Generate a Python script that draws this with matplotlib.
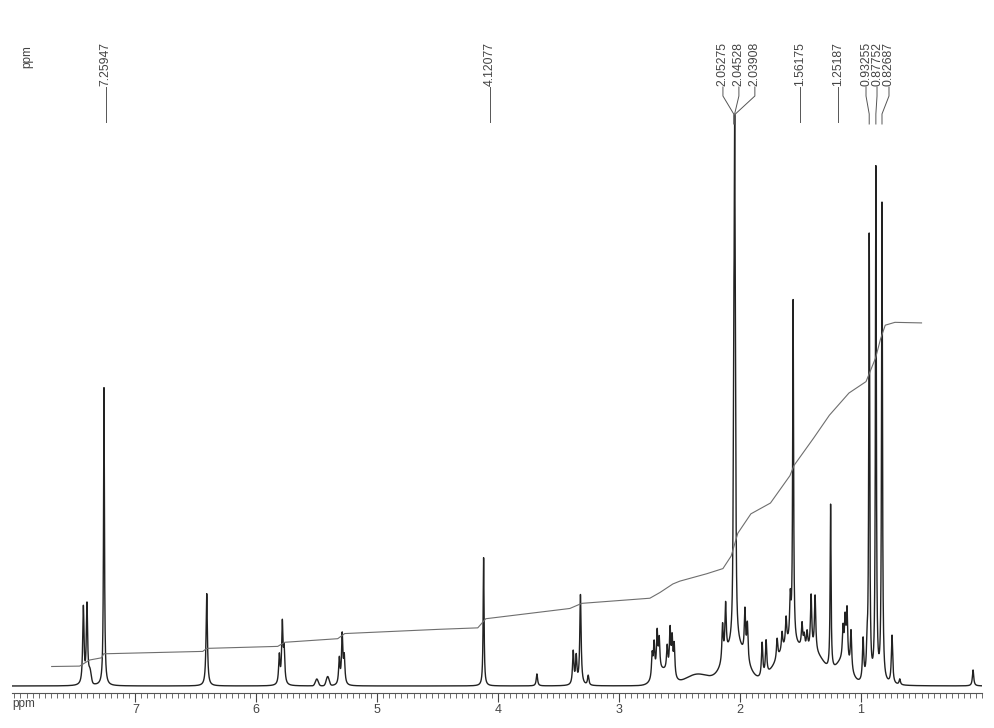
import numpy as np
import matplotlib.pyplot as plt
from matplotlib.ticker import MultipleLocator
from matplotlib.transforms import blended_transform_factory

plt.rcParams['font.family'] = ['Liberation Sans', 'DejaVu Sans']

# sharp lines: shift (ppm) and peak height (2.05 ppm line ~ 100)
line_ppm = [7.430, 7.400, 7.25947, 6.410,
            5.810, 5.785, 5.770, 5.314, 5.290, 5.273,
            4.12077, 3.680, 3.380, 3.355, 3.320, 3.256,
            2.727, 2.711, 2.686, 2.669, 2.603, 2.579, 2.562, 2.545,
            2.145, 2.120, 2.05275, 2.04528, 2.03908, 1.960, 1.940,
            1.818, 1.785, 1.694, 1.653, 1.620, 1.585, 1.56175,
            1.488, 1.470, 1.446, 1.413, 1.380, 1.25187,
            1.149, 1.132, 1.116, 1.083, 0.983, 0.950,
            0.93255, 0.87752, 0.82687, 0.744, 0.680, 0.074]
line_height = [13.5, 14.0, 52.3, 16.2,
               5.0, 10.5, 5.6, 4.5, 8.6, 4.6,
               22.5, 2.1, 5.8, 4.8, 15.8, 1.7,
               4.2, 5.6, 7.0, 5.4, 4.3, 7.6, 6.2, 5.6,
               6.4, 9.0, 38.0, 71.0, 34.0, 8.0, 6.4,
               6.0, 6.0, 3.6, 3.2, 4.8, 7.5, 60.0,
               4.2, 2.2, 3.0, 9.6, 9.8, 29.0,
               5.4, 6.8, 9.0, 7.0, 7.4, 5.0,
               78.0, 90.0, 84.0, 8.5, 1.0, 2.8]

# broad humps under the aliphatic multiplets
hump_ppm = [7.375, 5.50, 5.41, 2.64, 2.35, 2.04, 1.58, 1.36, 1.15]
hump_height = [2.0, 1.2, 1.6, 2.5, 2.0, 7.0, 7.0, 4.0, 4.0]
hump_sigma = [0.010, 0.012, 0.012, 0.06, 0.10, 0.09, 0.12, 0.08, 0.06]

# integral trace
integral_ppm = [7.692, 7.461, 7.378, 7.279, 7.262, 6.443, 6.410, 5.823, 5.765,
                5.327, 5.269, 4.483, 4.169, 4.103, 3.408, 3.309, 2.746, 2.663,
                2.556, 2.498, 2.275, 2.142, 2.074, 2.019, 1.911, 1.749, 1.588,
                1.554, 1.392, 1.262, 1.100, 0.959, 0.879, 0.840, 0.800, 0.720,
                0.500]
integral_level = [3.42, 3.49, 4.56, 4.95, 5.65, 6.07, 6.60, 6.95, 7.67,
                  8.30, 9.20, 9.95, 10.2, 11.8, 13.6, 14.5, 15.4, 16.4,
                  17.9, 18.4, 19.7, 20.6, 22.8, 26.8, 30.2, 32.1, 36.9,
                  38.7, 43.5, 47.5, 51.4, 53.4, 57.6, 60.8, 63.3, 63.8,
                  63.7]

# peak picking
label_text = ['7.25947', '4.12077', '2.05275', '2.04528', '2.03908',
              '1.56175', '1.25187', '0.93255', '0.87752', '0.82687']
label_pos = [7.246, 4.070, 2.142, 2.010, 1.878, 1.505, 1.191, 0.959, 0.868, 0.769]
label_end = [7.246, 4.070, 2.05275, 2.04528, 2.03908, 1.505, 1.191,
             0.93255, 0.87752, 0.82687]

ppm = np.linspace(8.02, 0.0, 24000)
spec = np.zeros_like(ppm)
for p, h in zip(line_ppm, line_height):
    # tall singlets are sharper than the small multiplet lines
    w = 0.0045 if h > 20 else 0.0065
    spec += h * w**2 / ((ppm - p)**2 + w**2)
for p, h, s in zip(hump_ppm, hump_height, hump_sigma):
    spec += h * np.exp(-0.5 * ((ppm - p) / s)**2)

W, H = 994, 728
fig = plt.figure(figsize=(W / 100, H / 100), dpi=100)
ax = fig.add_axes([12 / W, 1 - 693 / H, 970 / W, 593 / H])

ax.plot(ppm, spec, color='#222222', lw=1.0)
ax.plot(integral_ppm, integral_level, color='#6e6e6e', lw=0.8)

ax.set_xlim(8.02, 0.0)
ax.set_ylim(-7 / 5.7, 586 / 5.7)
ax.set_xticks(range(1, 8))
ax.xaxis.set_minor_locator(MultipleLocator(0.05))
ax.set_yticks([])
for side in ['top', 'left', 'right']:
    ax.spines[side].set_visible(False)
ax.spines['bottom'].set_color('#555555')
ax.spines['bottom'].set_linewidth(0.8)
ax.tick_params(axis='x', which='major', length=6.5, width=0.8, pad=1.5,
               labelsize=9, colors='#444444')
ax.tick_params(axis='x', which='minor', length=3.6, width=0.6, colors='#555555')

# labels above the spectrum, y in figure pixels
trans = blended_transform_factory(ax.transData, fig.transFigure)
fy = lambda px: 1 - px / H
for txt, pos, end in zip(label_text, label_pos, label_end):
    ax.text(pos, fy(86), txt, rotation=90, ha='center', va='bottom',
            fontsize=8.8, color='#444444', transform=trans)
    if pos == end:
        xs, ys = [pos, pos], [fy(87), fy(122)]
    else:
        xs = [pos, pos, end, end]
        ys = [fy(87), fy(96), fy(114), fy(124)]
    ax.plot(xs, ys, color='#555555', lw=0.7, transform=trans, clip_on=False)

fig.text(27 / W, fy(57), 'ppm', rotation=90, ha='center', va='center',
         fontsize=8.5, color='#444444')
fig.text(12 / W, fy(704), 'ppm', ha='left', va='center',
         fontsize=8.5, color='#444444')

fig.savefig('out.png', dpi=100, facecolor='white')
